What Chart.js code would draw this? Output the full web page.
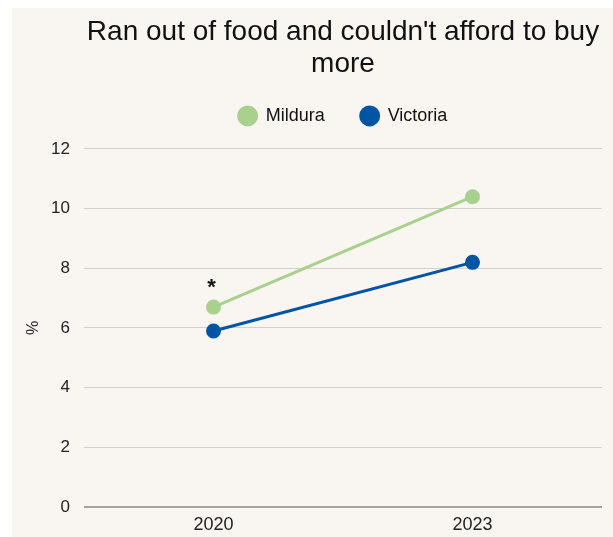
<!DOCTYPE html>
<html>
  <head>
    <title>Ran out of food</title>
    <script src="https://cdn.jsdelivr.net/npm/chart.js"></script>
    <style>
      body { margin: 0; background: #fff; }
      .chart-box {
        position: absolute;
        left: 12px;
        top: 8px;
        width: 601px;
        height: 529px;
        background: #f9f6f1;
      }
    </style>
  </head>
  <body>
    <div class="chart-box">
      <canvas id="food-chart"></canvas>
    </div>
    <script>
      var years = ['2020', '2023'];
      var mildura = [6.7, 10.4];
      var victoria = [5.9, 8.2];
      var mildFlags = ['*', ''];
      var yTicks = [0, 2, 4, 6, 8, 10, 12];

      var FONT = "'Liberation Sans', Arial, sans-serif";

      // draws the significance asterisk above the Mildura points
      var flagPlugin = {
        id: 'flags',
        afterDatasetsDraw: function (chart) {
          var meta = chart.getDatasetMeta(0);
          var ctx = chart.ctx;
          ctx.save();
          ctx.fillStyle = '#111';
          ctx.font = 'bold 22px ' + FONT;
          ctx.textAlign = 'center';
          ctx.textBaseline = 'alphabetic';
          meta.data.forEach(function (pt, i) {
            if (mildFlags[i]) {
              ctx.fillText(mildFlags[i], pt.x - 2, pt.y - 13);
            }
          });
          ctx.restore();
        },
      };

      // extra room between the legend and the plot
      var legendMargin = {
        id: 'legendMargin',
        beforeInit: function (chart) {
          var fitValue = chart.legend.fit;
          chart.legend.fit = function fit() {
            fitValue.bind(chart.legend)();
            this.height += 14;
          };
        },
      };

      var ctx = document.getElementById('food-chart').getContext('2d');

      var foodChart = new Chart(ctx, {
        type: 'line',
        data: {
          labels: years,
          datasets: [
            {
              label: 'Mildura',
              data: mildura,
              borderColor: '#a9d18e',
              backgroundColor: '#a9d18e',
              borderWidth: 3,
              pointRadius: 6,
              pointHoverRadius: 6,
              fill: false,
            },
            {
              label: 'Victoria',
              data: victoria,
              borderColor: '#0054a4',
              backgroundColor: '#0054a4',
              borderWidth: 3,
              pointRadius: 6,
              pointHoverRadius: 6,
              fill: false,
            },
          ],
        },
        options: {
          responsive: true,
          maintainAspectRatio: false,
          animation: false,
          layout: {
            padding: { left: 0, right: 11, top: 0, bottom: 2 },
          },
          plugins: {
            title: {
              display: true,
              fullSize: false,
              text: ['Ran out of food and couldn\'t afford to buy', 'more'],
              color: '#111',
              font: { family: FONT, size: 28, weight: 'normal', lineHeight: 1.16 },
              padding: { top: 8, bottom: -10 },
            },
            legend: {
              fullSize: false,
              labels: {
                usePointStyle: true,
                pointStyle: 'circle',
                boxHeight: 12.7,
                pointStyleWidth: 18,
                padding: 36,
                color: '#111',
                font: { family: FONT, size: 18 },
              },
            },
            tooltip: { enabled: false },
          },
          scales: {
            x: {
              offset: true,
              afterFit: function (axis) {
                axis.height = 28;
              },
              grid: { display: false, drawTicks: false },
              border: { display: false },
              ticks: {
                color: '#222',
                padding: 7,
                font: { family: FONT, size: 18 },
              },
            },
            y: {
              min: 0,
              max: 12,
              afterBuildTicks: function (axis) {
                axis.ticks = yTicks.map(function (v) { return { value: v }; });
              },
              afterFit: function (axis) {
                axis.width = 72;
              },
              border: { display: false },
              grid: {
                drawTicks: false,
                color: function (c) { return c.tick && c.tick.value === 0 ? '#a7a39e' : '#d3cfca'; },
                lineWidth: function (c) { return c.tick && c.tick.value === 0 ? 2 : 1; },
              },
              ticks: {
                color: '#222',
                padding: 14,
                font: { family: FONT, size: 17 },
              },
              title: {
                display: true,
                text: '%',
                color: '#222',
                padding: { top: 12, bottom: 0 },
                font: { family: FONT, size: 16 },
              },
            },
          },
        },
        plugins: [flagPlugin, legendMargin],
      });
    </script>
  </body>
</html>
